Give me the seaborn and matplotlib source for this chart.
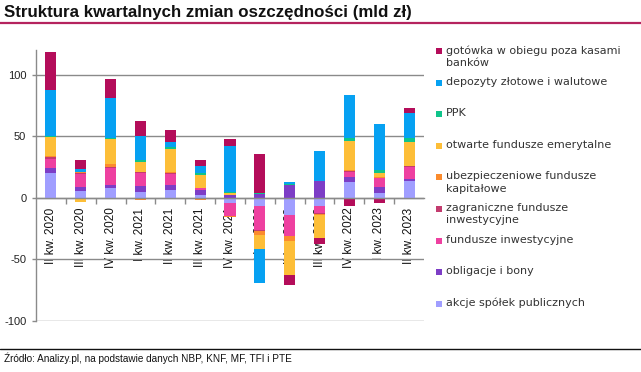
import numpy as np
import pandas as pd
import matplotlib
matplotlib.use("Agg")
import matplotlib.pyplot as plt
import seaborn as sns
from matplotlib.patches import Rectangle
from matplotlib.lines import Line2D

categories = ["II kw. 2020", "III kw. 2020", "IV kw. 2020", "I kw. 2021", "II kw. 2021",
              "III kw. 2021", "IV kw. 2021", "I kw. 2022", "II kw. 2022", "III kw. 2022",
              "IV kw. 2022", "I kw. 2023", "II kw. 2023"]

akcje = [20.3, 5.7, 8.1, 4.9, 6.5, 2.4, -4.0, -6.5, -13.8, -7.0, 13.0, 4.1, 13.8]
obligacje = [4.1, 3.2, 2.4, 4.9, 4.1, 4.1, 2.4, 3.2, 10.8, 13.8, 4.1, 4.9, 1.6]
fundusze = [6.8, 10.8, 14.1, 10.0, 8.9, 1.1, -10.5, -19.7, -17.0, -5.4, 4.1, 6.8, 9.7]
zagraniczne = [1.6, 0.5, 0.5, 0.8, 0.8, 0.5, -0.4, -0.5, -0.5, -0.5, 0.5, 0.5, 0.4]
ubezpieczeniowe = [1.4, 0.8, 2.4, -1.6, 0.8, -1.6, -1.0, -3.8, -4.1, -1.0, 1.1, 0.5, 0.4]
ofe = [15.4, -3.8, 20.3, 8.6, 18.6, 10.5, 1.9, -11.4, -27.0, -18.7, 23.5, 3.0, 19.5]
ppk = [0.3, 0.3, 0.5, 1.1, 1.6, 1.6, 0.3, 1.1, 0.2, 0.2, 2.2, 2.7, 3.0]
depozyty = [37.3, 2.2, 32.7, 19.7, 4.1, 5.4, 37.3, -27.6, 2.2, 24.3, 35.1, 37.3, 20.5]
gotowka = [30.8, 7.3, 15.4, 12.4, 9.7, 5.1, 6.2, 31.4, -8.1, -4.6, -6.5, -4.6, 4.1]

series_names = ["akcje spółek publicznych", "obligacje i bony", "fundusze inwestycyjne",
                "zagraniczne fundusze\ninwestycyjne", "ubezpieczeniowe fundusze\nkapitałowe",
                "otwarte fundusze emerytalne", "PPK", "depozyty złotowe i walutowe",
                "gotówka w obiegu poza kasami\nbanków"]
series_values = [akcje, obligacje, fundusze, zagraniczne, ubezpieczeniowe, ofe, ppk, depozyty, gotowka]
series_colors = ["#A09EFF", "#7D3DC6", "#EE40A0", "#C33C6F", "#FB8B2D",
                 "#FDBE38", "#0FC48A", "#06A1F2", "#B40D5A"]

y_ticks = [-100, -50, 0, 50, 100]
title = "Struktura kwartalnych zmian oszczędności (mld zł)"
source = "Źródło: Analizy.pl, na podstawie danych NBP, KNF, MF, TFI i PTE"

sns.set_theme(style="white")
plt.rcParams["font.family"] = ["Liberation Sans", "DejaVu Sans"]

W, H = 641, 372
fig = plt.figure(figsize=(W / 100, H / 100), dpi=100)
ax = fig.add_axes([36 / W, 1 - 321 / H, (424 - 36) / W, (321 - 50) / H])

n = len(categories)
pos_acc = np.zeros(n)
neg_acc = np.zeros(n)
for name, vals, col in zip(series_names, series_values, series_colors):
    v = np.array(vals, dtype=float)
    bottom = np.where(v >= 0, pos_acc, neg_acc)
    df = pd.DataFrame({"cat": categories, "val": v})
    sns.barplot(data=df, x="cat", y="val", order=categories, color=col, width=0.37,
                errorbar=None, bottom=bottom, ax=ax, linewidth=0, saturation=1)
    pos_acc = pos_acc + np.where(v >= 0, v, 0)
    neg_acc = neg_acc + np.where(v < 0, v, 0)

ax.set_xlim(-0.5, n - 0.5)
ax.set_ylim(-100, 120)
ax.set_yticks(y_ticks)
ax.set_yticklabels([str(t) for t in y_ticks], fontsize=8, color="#222222")
ax.set_xlabel("")
ax.set_ylabel("")
ax.yaxis.grid(True, color="#8a8a8a", linewidth=1)
ax.set_axisbelow(True)
ax.tick_params(axis="y", length=3, width=1, color="#8a8a8a", direction="out", pad=4, left=True)

for s in ["top", "right"]:
    ax.spines[s].set_visible(False)
ax.spines["left"].set_color("#8a8a8a")
ax.spines["left"].set_linewidth(1)
ax.spines["bottom"].set_position(("data", 0))
ax.spines["bottom"].set_color("#8a8a8a")
ax.spines["bottom"].set_linewidth(1)

ax.set_xticks(range(n))
ax.set_xticklabels(categories, rotation=90, fontsize=8.5, color="#111111", va="top", ha="center")
ax.tick_params(axis="x", which="major", length=0, pad=7, bottom=True)
ax.set_xticks(np.arange(n - 1) + 0.5, minor=True)
ax.tick_params(axis="x", which="minor", length=4, width=1, color="#8a8a8a", direction="out", bottom=True)

# Title and decorations
fig.text(4 / W, 1 - 12 / H, title, fontsize=12.2, fontweight="bold", color="#111111",
         ha="left", va="center")
fig.add_artist(Line2D([0, 1], [1 - 22.5 / H, 1 - 22.5 / H], color="#B5235E", linewidth=1.6))
fig.add_artist(Line2D([0, 1], [1 - 349 / H, 1 - 349 / H], color="#111111", linewidth=1.0))
fig.text(4 / W, 1 - 358 / H, source, fontsize=7.2, color="#111111", ha="left", va="center")

# Legend (manual, reversed order)
leg_names = series_names[::-1]
leg_colors = series_colors[::-1]
for i, (name, col) in enumerate(zip(leg_names, leg_colors)):
    y = 51 + i * 31.6
    fig.add_artist(Rectangle((436 / W, 1 - (y + 3) / H), 6 / W, 6 / H, facecolor=col,
                             edgecolor="none", transform=fig.transFigure))
    fig.text(446 / W, 1 - (y - 6) / H, name, fontsize=8, color="#333333",
             ha="left", va="top", linespacing=1.3, family=["DejaVu Sans"])

fig.savefig("out.png", dpi=100)
